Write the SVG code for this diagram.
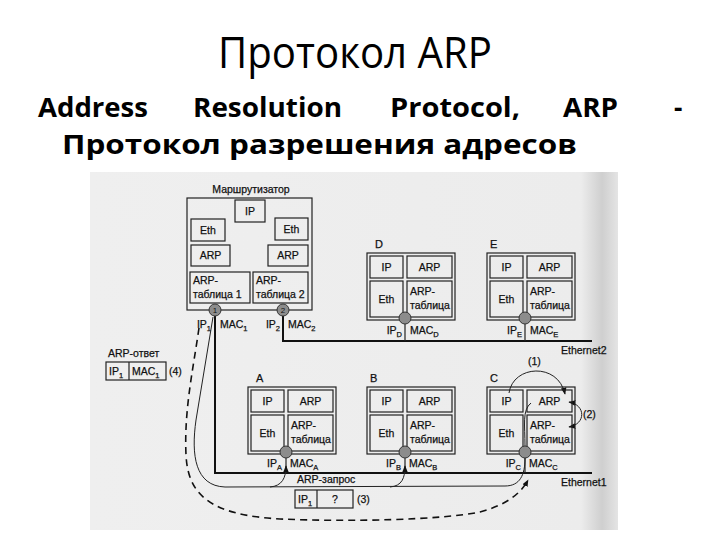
<svg xmlns="http://www.w3.org/2000/svg" width="720" height="540" viewBox="0 0 720 540">
<defs>
<style>
.ttl{font-family:"Open Sans","Noto Sans","DejaVu Sans",sans-serif;fill:#000}
.sub1{font-family:"Open Sans","Noto Sans","DejaVu Sans",sans-serif;font-weight:bold;font-size:26px;fill:#000}
.t{font-family:"Liberation Sans",Arial,sans-serif;font-size:10.5px;fill:#111;stroke:#111;stroke-width:0.25}
.tm{text-anchor:middle}
.te{text-anchor:end}
.s{font-size:7.5px}
.lbl{font-family:"Liberation Sans",Arial,sans-serif;font-size:11px;fill:#111;stroke:#111;stroke-width:0.25}
.bx{fill:none;stroke:#222;stroke-width:1.2}
.port{fill:#8c8c8c;stroke:#333;stroke-width:1}
.num{font-family:"Liberation Sans",Arial,sans-serif;font-size:8px;fill:#111;text-anchor:middle}
.eth{fill:none;stroke:#111;stroke-width:2}
.pl{fill:none;stroke:#222;stroke-width:1.2}
.thin{fill:none;stroke:#222;stroke-width:1}
.dash{fill:none;stroke:#111;stroke-width:1.6;stroke-dasharray:7 5}
</style>
<marker id="ah" viewBox="0 0 10 10" refX="9" refY="5" markerWidth="7" markerHeight="7" markerUnits="userSpaceOnUse" orient="auto-start-reverse"><path d="M0,1 L10,5 L0,9 z" fill="#111"/></marker>
<linearGradient id="edge" x1="0" y1="0" x2="1" y2="0">
<stop offset="0" stop-color="#efefef"/>
<stop offset="0.93" stop-color="#ececec"/>
<stop offset="0.97" stop-color="#cfcfcf"/>
<stop offset="1" stop-color="#e4e4e4"/>
</linearGradient>
</defs>
<rect width="720" height="540" fill="#fff"/>
<rect x="90" y="172" width="528" height="358" fill="url(#edge)"/>

<g id="title">
<text class="ttl" x="218" y="68" font-size="43" textLength="274" lengthAdjust="spacingAndGlyphs">Протокол ARP</text>
<text class="sub1" x="38" y="117" textLength="110" lengthAdjust="spacingAndGlyphs">Address</text>
<text class="sub1" x="193" y="117" textLength="149" lengthAdjust="spacingAndGlyphs">Resolution</text>
<text class="sub1" x="390" y="117" textLength="130" lengthAdjust="spacingAndGlyphs">Protocol,</text>
<text class="sub1" x="563" y="117" textLength="55" lengthAdjust="spacingAndGlyphs">ARP</text>
<text class="sub1" x="674" y="117">-</text>
<text class="sub1" x="62" y="154" textLength="515" lengthAdjust="spacingAndGlyphs">Протокол разрешения адресов</text>
</g>

<g id="connectors">
<path class="eth" d="M283,316 L283,341 L592,341"/>
<path class="eth" d="M215,316 L215,473 L592,473"/>
<path class="pl" d="M405,324 L405,341"/>
<path class="pl" d="M525,324 L525,341"/>
<path class="pl" d="M286,458 L286,473"/>
<path class="pl" d="M405,458 L405,473"/>
<path class="pl" d="M525,458 L525,473"/>
<path class="thin" d="M213,317 L196,420 C191,455 195,486 225,487 L505,486 C520,486 525,475 525,458"/>
<path class="thin" d="M525,446 C525,425 522,410 531,403"/>
<path class="thin" d="M270,487 C282,486 286,478 286,466" marker-end="url(#ah)"/>
<path class="thin" d="M390,487 C402,486 405,478 405,466" marker-end="url(#ah)"/>
<path class="dash" d="M199,328 C193,370 184,410 186,455 C188,495 210,515 280,519 C350,522 440,520 480,512 C505,505 520,495 528,480" marker-end="url(#ah)"/>
<path class="thin" d="M509,393 C513,365 558,362 565,394" marker-end="url(#ah)"/>
<path class="thin" d="M569,402 C586,405 586,424 569,427" marker-start="url(#ah)" marker-end="url(#ah)"/>
<text class="t" x="528" y="365">(1)</text>
<text class="t" x="583" y="418">(2)</text>
<text class="t" x="297" y="483">ARP-запрос</text>
<text class="t" x="561" y="354">Ethernet2</text>
<text class="t" x="561" y="486">Ethernet1</text>
</g>

<g id="router">
<text class="t tm" x="251" y="193">Маршрутизатор</text>
<rect class="bx" x="187" y="198" width="125" height="112"/>
<rect class="bx" x="235" y="200" width="30" height="22"/>
<text class="t tm" x="250" y="215">IP</text>
<rect class="bx" x="191" y="219" width="34" height="22"/>
<text class="t tm" x="208" y="234">Eth</text>
<rect class="bx" x="275" y="218" width="33" height="22"/>
<text class="t tm" x="291.5" y="233">Eth</text>
<rect class="bx" x="191" y="245" width="39" height="21"/>
<text class="t tm" x="210.5" y="259">ARP</text>
<rect class="bx" x="268" y="245" width="40" height="21"/>
<text class="t tm" x="288" y="259">ARP</text>
<rect class="bx" x="190" y="272" width="60" height="31"/>
<text class="t" x="193" y="284">ARP-</text>
<text class="t" x="193" y="298">таблица 1</text>
<rect class="bx" x="253" y="272" width="55" height="31"/>
<text class="t" x="256" y="284">ARP-</text>
<text class="t" x="256" y="298">таблица 2</text>
<circle class="port" cx="215" cy="310" r="6"/>
<text class="num" x="215" y="313">1</text>
<circle class="port" cx="283" cy="310" r="6"/>
<text class="num" x="283" y="313">2</text>
<text class="t te" x="211" y="328">IP<tspan class="s" dy="3">1</tspan></text>
<text class="t" x="220" y="328">MAC<tspan class="s" dy="3">1</tspan></text>
<text class="t te" x="280" y="328">IP<tspan class="s" dy="3">2</tspan></text>
<text class="t" x="288" y="328">MAC<tspan class="s" dy="3">2</tspan></text>
</g>

<g id="hostD" transform="translate(367,253)">
<text class="lbl" x="8" y="-5">D</text>
<rect class="bx" x="0" y="0" width="88" height="67"/>
<rect class="bx" x="3" y="3" width="33" height="22"/>
<rect class="bx" x="40" y="3" width="45" height="22"/>
<rect class="bx" x="3" y="28" width="33" height="36"/>
<rect class="bx" x="40" y="28" width="45" height="36"/>
<text class="t tm" x="19.5" y="18">IP</text>
<text class="t tm" x="62.5" y="18">ARP</text>
<text class="t tm" x="19.5" y="50">Eth</text>
<text class="t" x="43" y="42">ARP-</text>
<text class="t" x="43" y="56">таблица</text>
<circle class="port" cx="38" cy="65" r="6"/>
<text class="t te" x="35" y="81">IP<tspan class="s" dy="3">D</tspan></text>
<text class="t" x="43" y="81">MAC<tspan class="s" dy="3">D</tspan></text>
</g>

<g id="hostE" transform="translate(487,253)">
<text class="lbl" x="3" y="-5">E</text>
<rect class="bx" x="0" y="0" width="88" height="67"/>
<rect class="bx" x="3" y="3" width="33" height="22"/>
<rect class="bx" x="40" y="3" width="45" height="22"/>
<rect class="bx" x="3" y="28" width="33" height="36"/>
<rect class="bx" x="40" y="28" width="45" height="36"/>
<text class="t tm" x="19.5" y="18">IP</text>
<text class="t tm" x="62.5" y="18">ARP</text>
<text class="t tm" x="19.5" y="50">Eth</text>
<text class="t" x="43" y="42">ARP-</text>
<text class="t" x="43" y="56">таблица</text>
<circle class="port" cx="38" cy="65" r="6"/>
<text class="t te" x="35" y="81">IP<tspan class="s" dy="3">E</tspan></text>
<text class="t" x="43" y="81">MAC<tspan class="s" dy="3">E</tspan></text>
</g>

<g id="hostA" transform="translate(248,387)">
<text class="lbl" x="8" y="-5">A</text>
<rect class="bx" x="0" y="0" width="88" height="67"/>
<rect class="bx" x="3" y="3" width="33" height="22"/>
<rect class="bx" x="40" y="3" width="45" height="22"/>
<rect class="bx" x="3" y="28" width="33" height="36"/>
<rect class="bx" x="40" y="28" width="45" height="36"/>
<text class="t tm" x="19.5" y="18">IP</text>
<text class="t tm" x="62.5" y="18">ARP</text>
<text class="t tm" x="19.5" y="50">Eth</text>
<text class="t" x="43" y="42">ARP-</text>
<text class="t" x="43" y="56">таблица</text>
<circle class="port" cx="38" cy="65" r="6"/>
<text class="t te" x="34" y="80">IP<tspan class="s" dy="3">A</tspan></text>
<text class="t" x="42" y="80">MAC<tspan class="s" dy="3">A</tspan></text>
</g>

<g id="hostB" transform="translate(367,387)">
<text class="lbl" x="3" y="-5">B</text>
<rect class="bx" x="0" y="0" width="88" height="67"/>
<rect class="bx" x="3" y="3" width="33" height="22"/>
<rect class="bx" x="40" y="3" width="45" height="22"/>
<rect class="bx" x="3" y="28" width="33" height="36"/>
<rect class="bx" x="40" y="28" width="45" height="36"/>
<text class="t tm" x="19.5" y="18">IP</text>
<text class="t tm" x="62.5" y="18">ARP</text>
<text class="t tm" x="19.5" y="50">Eth</text>
<text class="t" x="43" y="42">ARP-</text>
<text class="t" x="43" y="56">таблица</text>
<circle class="port" cx="38" cy="65" r="6"/>
<text class="t te" x="34" y="80">IP<tspan class="s" dy="3">B</tspan></text>
<text class="t" x="42" y="80">MAC<tspan class="s" dy="3">B</tspan></text>
</g>

<g id="hostC" transform="translate(487,387)">
<text class="lbl" x="3" y="-5">C</text>
<rect class="bx" x="0" y="0" width="88" height="67"/>
<rect class="bx" x="3" y="3" width="33" height="22"/>
<rect class="bx" x="40" y="3" width="45" height="22"/>
<rect class="bx" x="3" y="28" width="33" height="36"/>
<rect class="bx" x="40" y="28" width="45" height="36"/>
<text class="t tm" x="19.5" y="18">IP</text>
<text class="t tm" x="62.5" y="18">ARP</text>
<text class="t tm" x="19.5" y="50">Eth</text>
<text class="t" x="43" y="42">ARP-</text>
<text class="t" x="43" y="56">таблица</text>
<circle class="port" cx="38" cy="65" r="6"/>
<text class="t te" x="34" y="80">IP<tspan class="s" dy="3">C</tspan></text>
<text class="t" x="42" y="80">MAC<tspan class="s" dy="3">C</tspan></text>
</g>

<g id="arpReply">
<text class="t" x="108" y="357">ARP-ответ</text>
<rect class="bx" x="106" y="362" width="60" height="18"/>
<line class="bx" x1="129" y1="362" x2="129" y2="380"/>
<text class="t" x="109" y="375">IP<tspan class="s" dy="3">1</tspan></text>
<text class="t" x="132" y="375">MAC<tspan class="s" dy="3">1</tspan></text>
<text class="t" x="169" y="375">(4)</text>
</g>

<g id="arpRequest">
<rect class="bx" x="295" y="490" width="58" height="18"/>
<line class="bx" x1="317" y1="490" x2="317" y2="508"/>
<text class="t" x="298" y="503">IP<tspan class="s" dy="3">1</tspan></text>
<text class="t tm" x="335" y="503">?</text>
<text class="t" x="357" y="503">(3)</text>
</g>
</svg>
